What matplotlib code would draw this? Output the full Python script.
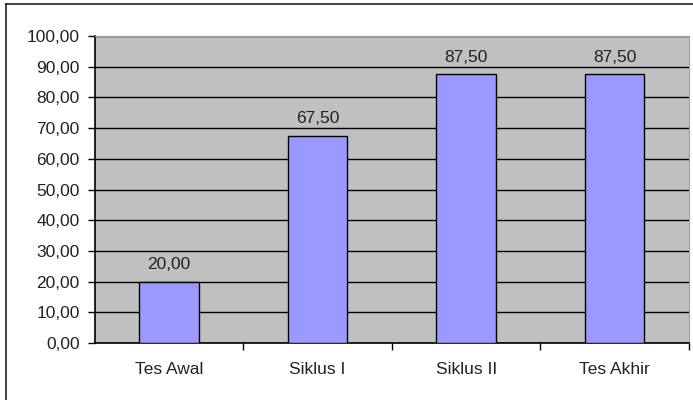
import matplotlib.pyplot as plt
from matplotlib.lines import Line2D

categories = ['Tes Awal', 'Siklus I', 'Siklus II', 'Tes Akhir']
values = [20.00, 67.50, 87.50, 87.50]
yticks = [0, 10, 20, 30, 40, 50, 60, 70, 80, 90, 100]

plt.rcParams['font.family'] = ['Liberation Sans', 'DejaVu Sans']

fig = plt.figure(figsize=(6.93, 4.0), dpi=100)
ax = fig.add_axes([0.137, 0.1425, 0.857, 0.7675])
ax.set_facecolor('#c0c0c0')

x = list(range(len(categories)))
ax.bar(x, values, width=0.4, color='#9999ff', edgecolor='black', linewidth=1, zorder=3)

for i, v in enumerate(values):
    ax.annotate(f'{v:.2f}'.replace('.', ','), (i, v), xytext=(0, 7), textcoords='offset points',
                ha='center', va='bottom', fontsize=12.5, color='#222222')

ax.set_xlim(-0.5, len(categories) - 0.5)
ax.set_ylim(0, 100)
ax.set_yticks(yticks)
ax.set_yticklabels([f'{t:.2f}'.replace('.', ',') for t in yticks], fontsize=12.5, color='#222222')
ax.yaxis.grid(True, color='black', linewidth=1, zorder=1)
ax.set_axisbelow(True)

# category labels centered, ticks on the boundaries
ax.set_xticks(x)
ax.set_xticklabels(categories, fontsize=12.5, color='#222222')
ax.tick_params(axis='x', length=0, pad=14)
ax.set_xticks([0.5, 1.5, 2.5, 3.5], minor=True)
ax.tick_params(axis='x', which='minor', length=5, width=1, color='black')
ax.tick_params(axis='y', length=5, width=1, color='black', pad=6)

for s in ['top', 'right']:
    ax.spines[s].set_color('#a0a0a0')
for s in ['left', 'bottom']:
    ax.spines[s].set_color('black')
    ax.spines[s].set_linewidth(1.2)

# outer chart border (cut off on right and bottom)
fig.add_artist(Line2D([0.008, 0.008], [0.0, 0.99], transform=fig.transFigure, color='#222222', lw=1.2))
fig.add_artist(Line2D([0.008, 1.0], [0.99, 0.99], transform=fig.transFigure, color='#222222', lw=1.2))

fig.savefig('out.png', dpi=100)
